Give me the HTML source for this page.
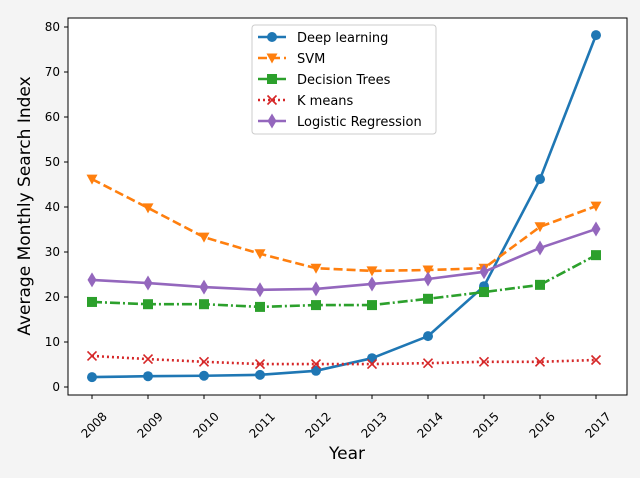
<!DOCTYPE html>
<html><head><meta charset="utf-8"><style>
html,body{margin:0;padding:0;overflow:hidden;background:#f4f4f4;font-family:"DejaVu Sans","Liberation Sans",sans-serif}
svg{display:block}
</style></head><body>
<svg width="640" height="478" xmlns="http://www.w3.org/2000/svg" id="svg">
<rect width="640" height="478" fill="#f4f4f4"/>
<rect x="68" y="18" width="559" height="377" fill="#fff" stroke="#000" stroke-width="1"/>
<g id="axes"></g><g id="series"></g>
<text x="347" y="459" text-anchor="middle" font-size="17">Year</text>
<text transform="translate(30,206) rotate(-90)" text-anchor="middle" font-size="17">Average Monthly Search Index</text>
<g id="legend"></g>
</svg>
<script>
const years=[2008,2009,2010,2011,2012,2013,2014,2015,2016,2017];
const yTicks=[0,10,20,30,40,50,60,70,80];
const deepLearning=[2.2,2.4,2.5,2.7,3.6,6.4,11.3,22.4,46.2,78.2];
const svm=[46.2,39.8,33.3,29.6,26.4,25.8,26,26.4,35.6,40.2];
const decisionTrees=[18.9,18.4,18.4,17.8,18.2,18.2,19.6,21.1,22.7,29.3];
const kMeans=[6.9,6.2,5.6,5.1,5.1,5.1,5.3,5.6,5.6,6.0];
const logistic=[23.8,23.1,22.2,21.6,21.8,22.9,24,25.6,30.9,35.1];
const names=["Deep learning","SVM","Decision Trees","K means","Logistic Regression"];
const NS="http://www.w3.org/2000/svg";
const xs=i=>92+i*56, ys=v=>387-v*4.5;
function mk(t,a,p){const e=document.createElementNS(NS,t);for(const k in a)e.setAttribute(k,a[k]);p.appendChild(e);return e;}
const ax=document.getElementById('axes');
years.forEach((y,i)=>{
 const t=mk('line',{x1:xs(i),x2:xs(i),y1:395,y2:399,stroke:'#000'},ax);
 
 const l=mk('text',{transform:`translate(${xs(i)+5},${428}) rotate(-45)`,'text-anchor':'middle','font-size':'12'},ax);
 l.textContent=y;
 
});
yTicks.forEach(v=>{
 const t=mk('line',{x1:64,x2:68,y1:ys(v),y2:ys(v),stroke:'#000'},ax);
 
 const l=mk('text',{x:60,y:ys(v)+4,'text-anchor':'end','font-size':'12'},ax);
 l.textContent=v;
 
});
const colors=['#1f77b4','#ff7f0e','#2ca02c','#d62728','#9467bd'];
const dashes=['','9,4','10,3,2,3','2,3',''];
const data=[deepLearning,svm,decisionTrees,kMeans,logistic];
function marker(k,x,y,g){
 const c=colors[k];
 if(k==0)return mk('circle',{cx:x,cy:y,r:5,fill:c},g);
 if(k==1)return mk('polygon',{points:`${x-5.5},${y-4.5} ${x+5.5},${y-4.5} ${x},${y+5.5}`,fill:c},g);
 if(k==2)return mk('rect',{x:x-5,y:y-5,width:10,height:10,fill:c},g);
 if(k==3)return mk('path',{d:`M${x-4.5},${y-4.5}L${x+4.5},${y+4.5}M${x-4.5},${y+4.5}L${x+4.5},${y-4.5}`,stroke:c,'stroke-width':1.6},g);
 return mk('polygon',{points:`${x},${y-7.5} ${x+4.5},${y} ${x},${y+7.5} ${x-4.5},${y}`,fill:c},g);
}
const sg=document.getElementById('series');
data.forEach((d,k)=>{
 const g=mk('g',{},sg);
 
 
 const p=mk('polyline',{points:d.map((v,i)=>xs(i)+','+ys(v)).join(' '),fill:'none',stroke:colors[k],'stroke-width':2.6,'stroke-dasharray':dashes[k]},g);
 
 d.forEach((v,i)=>{const m=marker(k,xs(i),ys(v),g);
  });
});
const lg=document.getElementById('legend');
const box=mk('rect',{x:252,y:25,width:184,height:109,rx:3,fill:'#fff',stroke:'#ccc'},lg);

names.forEach((n,k)=>{
 const y=37+k*21;
 const g=mk('g',{},lg);
 
 mk('line',{x1:258,x2:286,y1:y,y2:y,stroke:colors[k],'stroke-width':2.6,'stroke-dasharray':dashes[k]},g);
 marker(k,272,y,g);
 const t=mk('text',{x:297,y:y+5,'font-size':'13'},g);t.textContent=n;
});
</script>
</body></html>
